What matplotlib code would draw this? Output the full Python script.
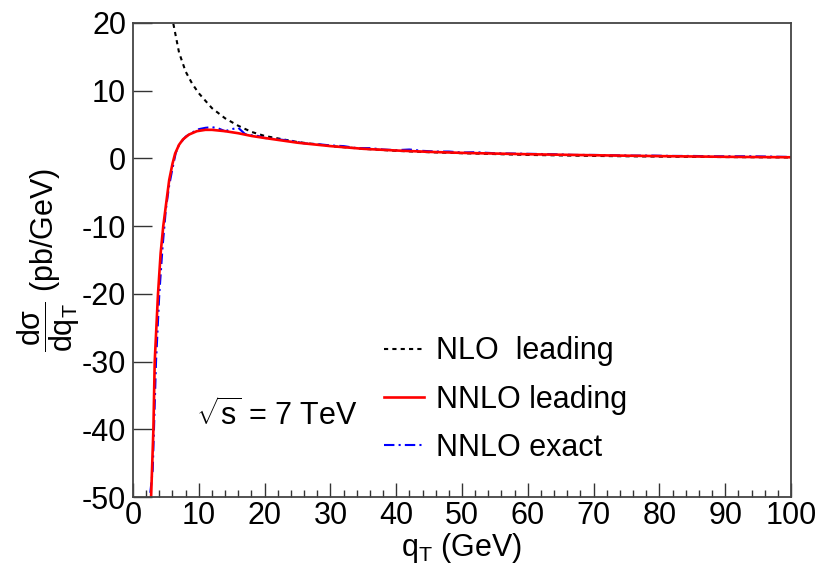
import matplotlib
matplotlib.use("Agg")
import matplotlib.pyplot as plt
from matplotlib.lines import Line2D
from matplotlib.ticker import MultipleLocator

plt.rcParams['font.family'] = ['Liberation Sans', 'DejaVu Sans']
plt.rcParams['mathtext.fontset'] = 'custom'
plt.rcParams['mathtext.rm'] = 'Liberation Sans'
plt.rcParams['mathtext.it'] = 'Liberation Sans'
plt.rcParams['mathtext.bf'] = 'Liberation Sans:bold'
plt.rcParams['axes.unicode_minus'] = False

# NLO leading (black dotted)
q_nlo = [5.5, 6.0, 7.0, 8.0, 9.0, 10.0, 12.0, 14.0, 16.0, 18.0, 20.0, 25.0, 30.0,
         35.0, 40.0, 45.0, 50.0, 60.0, 70.0, 80.0, 90.0, 100.0]
v_nlo = [25.0, 20.5, 15.6, 12.8, 11.0, 9.6, 7.4, 5.9, 4.8, 3.9, 3.3, 2.4, 1.8,
         1.4, 1.1, 0.9, 0.75, 0.5, 0.35, 0.25, 0.18, 0.12]

# NNLO leading (red solid)
q_lead = [2.75, 3.1, 3.3, 3.8, 4.2, 4.6, 5.1, 5.5, 6.0, 6.4, 7.0, 7.6, 8.5, 9.7,
          11.0, 12.0, 14.0, 16.0, 18.0, 20.0, 25.0, 30.0, 35.0, 40.0, 45.0, 50.0,
          60.0, 70.0, 80.0, 90.0, 100.0]
v_lead = [-50.0, -40.0, -30.0, -20.0, -14.0, -10.0, -6.2, -3.2, -0.8, 0.7, 2.0, 2.8,
          3.5, 4.0, 4.2, 4.2, 4.0, 3.7, 3.3, 3.0, 2.3, 1.8, 1.4, 1.15, 0.95, 0.8,
          0.6, 0.45, 0.32, 0.22, 0.15]

# NNLO exact (blue dash-dot)
q_exact = [0.5, 2.5, 3.0, 3.5, 4.0, 4.5, 5.0, 5.5, 6.0, 6.5, 7.0, 8.0, 9.0, 10.0,
           11.0, 12.0, 13.0, 14.0, 15.0, 16.0, 17.0, 18.0, 19.0, 20.0, 22.0, 24.0,
           26.0, 28.0, 30.0, 32.0, 34.0, 36.0, 38.0, 40.0, 42.0, 44.0, 46.0, 48.0,
           50.0, 52.0, 55.0, 58.0, 61.0, 64.0, 67.0, 70.0, 73.0, 76.0, 79.0, 82.0,
           85.0, 88.0, 91.0, 94.0, 97.0, 100.0]
v_exact = [-50.5, -50.5, -46.0, -30.0, -20.0, -13.0, -7.5, -4.0, -1.5, 0.8, 2.0,
           3.2, 3.8, 4.3, 4.5, 4.6, 4.4, 4.0, 4.3, 4.5, 3.6, 3.4, 3.3, 3.0, 2.8,
           2.6, 2.2, 2.1, 1.9, 1.8, 1.5, 1.5, 1.3, 1.2, 1.3, 1.1, 1.0, 1.0, 0.85,
           0.9, 0.75, 0.7, 0.65, 0.6, 0.5, 0.5, 0.45, 0.4, 0.4, 0.35, 0.35, 0.3,
           0.3, 0.3, 0.25, 0.2]

x_ticks = [0, 10, 20, 30, 40, 50, 60, 70, 80, 90, 100]
y_ticks = [-50, -40, -30, -20, -10, 0, 10, 20]

FS = 22

fig = plt.figure(figsize=(8.21, 5.70), dpi=100)
ax = fig.add_axes([0.162, 0.128, 0.8015, 0.832])

ax.plot(q_nlo, v_nlo, color='black', lw=1.5, ls=(0, (2, 2)))
ax.plot(q_exact, v_exact, color='blue', lw=1.5, ls=(0, (5, 2, 1, 2)))
ax.plot(q_lead, v_lead, color='red', lw=1.9)

ax.set_xlim(0, 100)
ax.set_ylim(-50, 20)
ax.set_xticks(x_ticks)
ax.set_yticks(y_ticks)
ax.xaxis.set_minor_locator(MultipleLocator(2))
ax.tick_params(axis='both', which='both', direction='in', labelsize=FS,
               color='#333333', top=False, right=False)
ax.tick_params(axis='x', which='major', length=10, width=1.0, pad=3)
ax.tick_params(axis='x', which='minor', length=5, width=1.0)
ax.tick_params(axis='y', which='major', length=14, width=1.0, pad=5)
for s in ax.spines.values():
    s.set_color('#444444')
    s.set_linewidth(1.3)

ax.set_xlabel(r'q$_\mathregular{T}$ (GeV)', fontsize=FS, labelpad=0)
ax.set_ylabel(r'$\mathregular{\dfrac{d\sigma}{dq_T}}$ (pb/GeV)', fontsize=FS, labelpad=0)

ax.text(0.095, 0.173, r'$\mathregular{\sqrt{s}}$ = 7 TeV', transform=ax.transAxes,
        fontsize=FS, va='center', ha='left')

handles = [Line2D([], [], color='black', lw=1.5, ls=(0, (2, 2))),
           Line2D([], [], color='red', lw=1.9),
           Line2D([], [], color='blue', lw=1.5, ls=(0, (5, 2, 1, 2)))]
labels = ['NLO  leading', 'NNLO leading', 'NNLO exact']
ax.legend(handles, labels, loc='upper left', bbox_to_anchor=(0.34, 0.397),
          frameon=False, fontsize=FS, handlelength=1.3, handletextpad=0.4,
          labelspacing=0.6)

fig.savefig('out.png', dpi=100)
